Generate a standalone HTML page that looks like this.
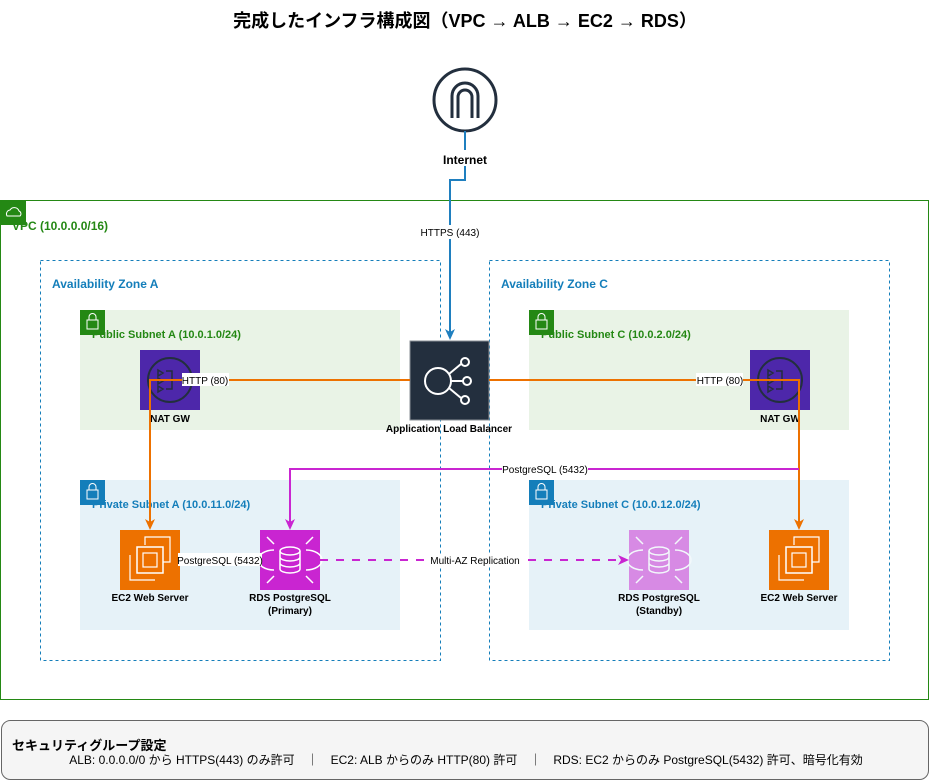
<!DOCTYPE html>
<html><head><meta charset="utf-8"><style>
body{margin:0;background:#fff}
svg{display:block;font-family:"Liberation Sans","Noto Sans CJK JP",sans-serif}
</style></head><body>
<svg width="930" height="782" viewBox="0 0 930 782" xmlns="http://www.w3.org/2000/svg">
<text x="465" y="27" font-size="18" font-weight="bold" text-anchor="middle" fill="#000">完成したインフラ構成図（VPC → ALB → EC2 → RDS）</text>

<!-- Internet -->
<circle cx="465" cy="100" r="31" fill="#fff" stroke="#232f3e" stroke-width="3"/>
<path d="M452,118 V96 a13,13 0 0 1 26,0 V118 M458,118 V97 a7,7 0 0 1 14,0 V118" fill="none" stroke="#232f3e" stroke-width="3"/>

<!-- VPC -->
<rect x="0.5" y="200.5" width="928" height="499" fill="#fff" stroke="#248814" stroke-width="1"/>
<rect x="1" y="200" width="25" height="25" fill="#248814"/>
<path d="M7,216 a4,4 0 0 1 3,-6 a5,5 0 0 1 9,1 a3,3 0 0 1 1,5 z" fill="none" stroke="#fff" stroke-width="1"/>
<text x="12" y="230" font-size="12" font-weight="bold" fill="#248814">VPC (10.0.0.0/16)</text>

<!-- AZs -->
<rect x="40.5" y="260.5" width="400" height="400" fill="none" stroke="#147eba" stroke-dasharray="3,3"/>
<rect x="489.5" y="260.5" width="400" height="400" fill="none" stroke="#147eba" stroke-dasharray="3,3"/>
<text x="52" y="288" font-size="12" font-weight="bold" fill="#147eba">Availability Zone A</text>
<text x="501" y="288" font-size="12" font-weight="bold" fill="#147eba">Availability Zone C</text>

<!-- Subnets -->
<rect x="80" y="310" width="320" height="120" fill="#e9f3e6"/>
<rect x="529" y="310" width="320" height="120" fill="#e9f3e6"/>
<rect x="80" y="480" width="320" height="150" fill="#e6f2f8"/>
<rect x="529" y="480" width="320" height="150" fill="#e6f2f8"/>
<g fill="#248814"><rect x="80" y="310" width="25" height="25"/><rect x="529" y="310" width="25" height="25"/></g>
<g fill="#147eba"><rect x="80" y="480" width="25" height="25"/><rect x="529" y="480" width="25" height="25"/></g>
<g fill="none" stroke="#fff" stroke-width="1">
<rect x="87" y="320" width="11" height="9"/><path d="M89,320 v-3 a3.5,3.5 0 0 1 7,0 v3"/>
<rect x="536" y="320" width="11" height="9"/><path d="M538,320 v-3 a3.5,3.5 0 0 1 7,0 v3"/>
<rect x="87" y="490" width="11" height="9"/><path d="M89,490 v-3 a3.5,3.5 0 0 1 7,0 v3"/>
<rect x="536" y="490" width="11" height="9"/><path d="M538,490 v-3 a3.5,3.5 0 0 1 7,0 v3"/>
</g>
<text x="92" y="338" font-size="11" font-weight="bold" fill="#248814">Public Subnet A (10.0.1.0/24)</text>
<text x="541" y="338" font-size="11" font-weight="bold" fill="#248814">Public Subnet C (10.0.2.0/24)</text>
<text x="92" y="508" font-size="11" font-weight="bold" fill="#147eba">Private Subnet A (10.0.11.0/24)</text>
<text x="541" y="508" font-size="11" font-weight="bold" fill="#147eba">Private Subnet C (10.0.12.0/24)</text>

<!-- NAT GWs -->
<g>
<rect x="140" y="350" width="60" height="60" fill="#4d27aa"/>
<circle cx="170" cy="380" r="22" fill="none" stroke="#232f3e" stroke-width="2"/>
<path d="M158,370 l5,3 l-5,3z M158,378 l5,3 l-5,3z M158,386 l5,3 l-5,3z M166,371 h6 v18 h-6" fill="none" stroke="#232f3e" stroke-width="1.5"/>
</g>
<g>
<rect x="750" y="350" width="60" height="60" fill="#4d27aa"/>
<circle cx="780" cy="380" r="22" fill="none" stroke="#232f3e" stroke-width="2"/>
<path d="M768,370 l5,3 l-5,3z M768,378 l5,3 l-5,3z M768,386 l5,3 l-5,3z M776,371 h6 v18 h-6" fill="none" stroke="#232f3e" stroke-width="1.5"/>
</g>
<text x="170" y="422" font-size="10" font-weight="bold" text-anchor="middle">NAT GW</text>
<text x="780" y="422" font-size="10" font-weight="bold" text-anchor="middle">NAT GW</text>

<!-- ALB -->
<rect x="410" y="341" width="79" height="79" fill="#232f3e" stroke="#8a8f96"/>
<circle cx="438" cy="381" r="13" fill="none" stroke="#fff" stroke-width="2"/>
<path d="M451,381 h12 M449,374 l12,-10 M449,388 l12,10" stroke="#fff" stroke-width="2"/>
<circle cx="465" cy="362" r="4" fill="none" stroke="#fff" stroke-width="2"/>
<circle cx="467" cy="381" r="4" fill="none" stroke="#fff" stroke-width="2"/>
<circle cx="465" cy="400" r="4" fill="none" stroke="#fff" stroke-width="2"/>
<text x="449" y="432" font-size="10" font-weight="bold" text-anchor="middle">Application Load Balancer</text>

<!-- EC2 -->
<g>
<rect x="120" y="530" width="60" height="60" fill="#ed7100"/>
<rect x="137" y="547" width="26" height="26" fill="none" stroke="#fff" stroke-width="1.5"/>
<rect x="143" y="553" width="14" height="14" fill="none" stroke="#fff" stroke-width="1.2"/>
<path d="M130,555 v25 h25 M145,545 v-8 h25 v25 h-7" fill="none" stroke="#fff" stroke-width="1.2"/>
</g>
<g>
<rect x="769" y="530" width="60" height="60" fill="#ed7100"/>
<rect x="786" y="547" width="26" height="26" fill="none" stroke="#fff" stroke-width="1.5"/>
<rect x="792" y="553" width="14" height="14" fill="none" stroke="#fff" stroke-width="1.2"/>
<path d="M779,555 v25 h25 M794,545 v-8 h25 v25 h-7" fill="none" stroke="#fff" stroke-width="1.2"/>
</g>
<text x="150" y="601" font-size="10" font-weight="bold" text-anchor="middle">EC2 Web Server</text>
<text x="799" y="601" font-size="10" font-weight="bold" text-anchor="middle">EC2 Web Server</text>

<!-- RDS -->
<g>
<rect x="260" y="530" width="60" height="60" fill="#c925d1"/>
<ellipse cx="290" cy="551" rx="10" ry="4" fill="none" stroke="#fff" stroke-width="1.5"/>
<path d="M280,551 v18 a10,4 0 0 0 20,0 v-18 M280,557 a10,4 0 0 0 20,0 M280,563 a10,4 0 0 0 20,0" fill="none" stroke="#fff" stroke-width="1.5"/>
<path d="M274,550 a16,10 0 0 0 0,20 M306,550 a16,10 0 0 1 0,20 M267,537 l7,7 M313,537 l-7,7 M267,583 l7,-7 M313,583 l-7,-7" fill="none" stroke="#fff" stroke-width="1.5"/>
</g>
<g opacity="0.5">
<rect x="629" y="530" width="60" height="60" fill="#c925d1"/>
<ellipse cx="659" cy="551" rx="10" ry="4" fill="none" stroke="#fff" stroke-width="1.5"/>
<path d="M649,551 v18 a10,4 0 0 0 20,0 v-18 M649,557 a10,4 0 0 0 20,0 M649,563 a10,4 0 0 0 20,0" fill="none" stroke="#fff" stroke-width="1.5"/>
<path d="M643,550 a16,10 0 0 0 0,20 M675,550 a16,10 0 0 1 0,20 M636,537 l7,7 M682,537 l-7,7 M636,583 l7,-7 M682,583 l-7,-7" fill="none" stroke="#fff" stroke-width="1.5"/>
</g>
<text x="290" y="601" font-size="10" font-weight="bold" text-anchor="middle">RDS PostgreSQL</text>
<text x="290" y="614" font-size="10" font-weight="bold" text-anchor="middle">(Primary)</text>
<text x="659" y="601" font-size="10" font-weight="bold" text-anchor="middle">RDS PostgreSQL</text>
<text x="659" y="614" font-size="10" font-weight="bold" text-anchor="middle">(Standby)</text>

<!-- Connectors -->
<path d="M465,131 V180 H450 V333" fill="none" stroke="#1f7fbf" stroke-width="2"/>
<path d="M445,329 L450,340 L455,329 L450,332 Z" fill="#1f7fbf"/>
<rect x="432" y="150" width="66" height="16" fill="#fff"/>
<text x="465" y="164" font-size="12" font-weight="bold" text-anchor="middle">Internet</text>
<rect x="416" y="225" width="68" height="14" fill="#fff"/>
<text x="450" y="236" font-size="10" text-anchor="middle">HTTPS (443)</text>

<path d="M410,380 H150 V523" fill="none" stroke="#ed7100" stroke-width="2"/>
<path d="M145,519 L150,530 L155,519 L150,522 Z" fill="#ed7100"/>
<path d="M489,380 H799 V523" fill="none" stroke="#ed7100" stroke-width="2"/>
<path d="M794,519 L799,530 L804,519 L799,522 Z" fill="#ed7100"/>
<rect x="182" y="373" width="47" height="13" fill="#fff"/>
<text x="205" y="384" font-size="10" text-anchor="middle">HTTP (80)</text>
<rect x="696" y="373" width="47" height="13" fill="#fff"/>
<text x="720" y="384" font-size="10" text-anchor="middle">HTTP (80)</text>

<path d="M799,469 H290 V523" fill="none" stroke="#c925d1" stroke-width="2"/>
<path d="M285,519 L290,530 L295,519 L290,522 Z" fill="#c925d1"/>
<rect x="502" y="462" width="86" height="13" fill="#fff"/>
<text x="545" y="473" font-size="10" text-anchor="middle">PostgreSQL (5432)</text>

<path d="M180,560 H260" stroke="#c925d1" stroke-width="2"/>
<rect x="178" y="553" width="84" height="13" fill="#fff"/>
<text x="220" y="564" font-size="10" text-anchor="middle">PostgreSQL (5432)</text>

<path d="M320,560 H622" fill="none" stroke="#c925d1" stroke-width="2" stroke-dasharray="8,8"/>
<path d="M618,555 L629,560 L618,565 L621,560 Z" fill="#c925d1"/>
<rect x="430" y="554" width="90" height="13" fill="#fff"/>
<text x="475" y="564" font-size="10" text-anchor="middle">Multi-AZ Replication</text>

<!-- Security box -->
<rect x="1.5" y="720.5" width="927" height="59" rx="9" fill="#f5f5f5" stroke="#666"/>
<text x="12" y="750" font-size="13" font-weight="bold">セキュリティグループ設定</text>
<text x="466" y="764" font-size="12" text-anchor="middle">ALB: 0.0.0.0/0 から HTTPS(443) のみ許可　｜　EC2: ALB からのみ HTTP(80) 許可　｜　RDS: EC2 からのみ PostgreSQL(5432) 許可、暗号化有効</text>
</svg>
</body></html>
